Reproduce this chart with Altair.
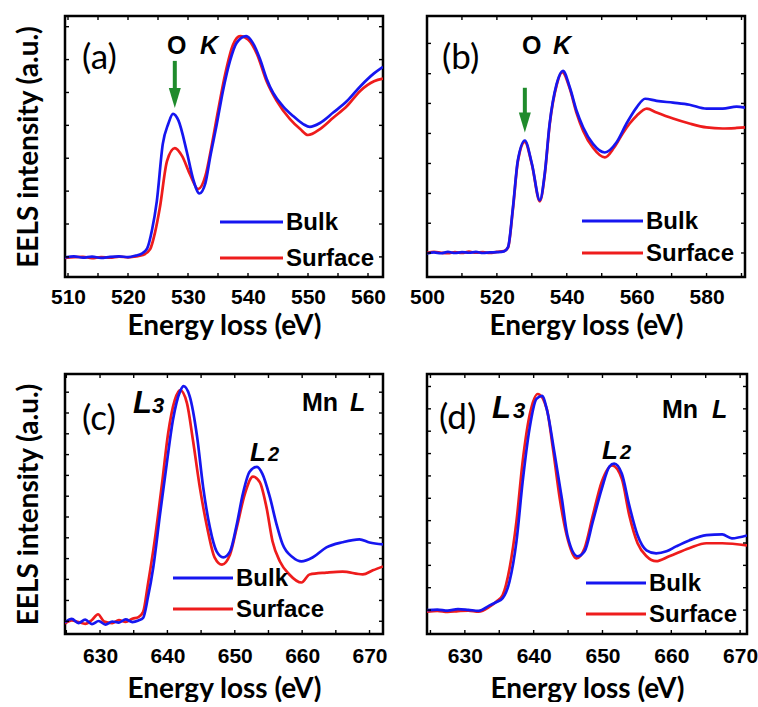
import altair as alt
import pandas as pd

BLUE = "#1616f0"
RED = "#ee1c1c"
GREEN = "#1f8b2c"

# ---------- (a) O K edge ----------
A_BULK_E = [509.5, 511, 512.5, 514, 515.5, 517, 518.5, 520, 521.3, 522.3, 523.2, 524, 524.8, 525.8,
            526.7, 527.5, 528.4, 529.8, 530.8, 531.9, 532.9, 533.7, 534.8, 535.8, 537, 538.1, 539.7,
            540.8, 542, 543.1, 544.2, 545.8, 547.5, 549.2, 550.3, 552, 554.2, 556.5, 558.7, 561, 562.5]
A_BULK_I = [7.5, 7.9, 7.4, 7.8, 7.3, 7.7, 7.9, 7.6, 8.2, 9.0, 11, 18, 29, 51,
            58.6, 62.5, 60, 48, 38, 32, 36, 46, 58.6, 71, 82.8, 89.7, 92.3,
            89.7, 83.5, 76, 70.5, 65.5, 61.7, 58.6, 57.5, 59, 63, 67.4, 73, 78, 80.5]
A_SURF_E = [509.5, 511, 512.5, 514, 515.5, 517, 518.5, 520, 521.3, 522.5, 523.7, 524.5, 525.3, 526.5,
            527.8, 529, 530.3, 531.7, 532.9, 534, 535, 536.2, 537.5, 538.7, 540, 541.5, 543.1, 544.8,
            547, 548.7, 550, 552, 554.2, 556.5, 558.7, 561, 562.5]
A_SURF_I = [7.3, 7.6, 7.7, 7.2, 7.6, 7.4, 7.8, 7.5, 7.9, 8.4, 10.7, 17, 26.4, 44.4,
            49.4, 46.4, 39.5, 33.7, 38.7, 51, 63.6, 77.8, 89, 92.3, 91, 85.4, 75, 67.4,
            60.5, 56.7, 54.4, 56.7, 61, 65.5, 71.3, 75, 76]

# ---------- (b) O K edge ----------
B_BULK_E = [500, 502, 504, 506, 508, 510, 512, 514, 516, 518, 520, 522, 523.2, 524.6, 526, 528, 530,
            532.3, 533.7, 535.1, 537.1, 538.9, 540.9, 542.8, 544.7, 547.5, 550.9, 554.2, 557.1, 560,
            562.4, 565.7, 570.4, 575.1, 580, 584.6, 588.6, 591]
B_BULK_I = [9.0, 9.4, 9.1, 9.6, 9.2, 9.5, 9.3, 9.6, 9.2, 9.4, 9.5, 9.8, 11.5, 26.7, 44.7, 52.3, 43.5,
            29.4, 39.7, 58.8, 74, 79, 72.5, 63.7, 57.3, 51, 47.7, 51.5, 58.8, 65,
            68.3, 67.5, 66.8, 66, 64.5, 64.5, 65.3, 64.9]
B_SURF_E = [500, 502, 504, 506, 508, 510, 512, 514, 516, 518, 520, 522, 523.2, 524.6, 526, 528, 530,
            532.3, 533.7, 535.1, 537.1, 538.7, 540.9, 542.8, 544.7, 547.5, 550.9, 553.5, 556, 558,
            560, 562.9, 565.7, 570.4, 575.1, 580, 584.6, 588.6, 591]
B_SURF_I = [9.2, 9.6, 9.3, 9.1, 9.5, 9.2, 9.7, 9.3, 9.5, 9.2, 9.6, 9.9, 11.3, 26.2, 44.2, 51.8, 43.2,
            29.0, 39.2, 58.3, 73.5, 78.5, 72.0, 62.8, 56.0, 49.5, 45.8, 49.5, 55, 58.8,
            61.8, 64.5, 63, 60.7, 58.8, 57.3, 56.9, 57.1, 57.3]

# ---------- (c) Mn L edge ----------
C_BULK_E = [624.8, 625.8, 626.8, 627.8, 628.8, 629.8, 630.8, 631.8, 632.8, 633.8, 634.8, 635.7, 636.4,
            637.1, 637.9, 638.9, 639.9, 640.8, 641.9, 642.4, 643.3, 644.4, 645.3, 646.3, 647.3, 648.3,
            649.3, 650.3, 651.2, 652.2, 653.3, 654.1, 655.2, 656.2, 657.1, 658.6, 659.9, 661.6, 663.6,
            666, 668.5, 670, 672]
C_BULK_I = [4.5, 5.8, 4.2, 5.5, 3.8, 5.0, 3.6, 4.8, 4.4, 5.6, 4.6, 5.2, 6.2,
            14, 25.6, 46, 65.5, 82, 93.4, 95.3, 91.5, 76, 56.6, 41, 31.8, 29.5,
            31.8, 42.2, 53.9, 62.4, 64.3, 61.6, 52.7, 42.2, 34.5, 29.5, 27.9, 29.5, 33.3,
            35.3, 36.4, 35.2, 34.5]
C_SURF_E = [624.8, 625.8, 626.8, 627.8, 628.8, 629.7, 630.6, 631.8, 632.8, 633.8, 634.8, 635.7, 636.4,
            637.1, 638.1, 639.2, 640.1, 641.1, 641.9, 642.9, 643.8, 644.8, 645.9, 647, 648.1, 649.3,
            650.3, 651.5, 652.7, 653.7, 654.7, 655.6, 656.7, 658.1, 659.9, 661.1, 663.6, 666, 669,
            670.5, 672]
C_SURF_I = [4.0, 5.2, 4.6, 3.9, 5.4, 7.6, 4.8, 4.2, 5.3, 4.7, 5.9, 6.5, 8.5,
            19, 35.7, 57.8, 77, 90, 93.8, 88.8, 74.4, 56.6, 41, 29.5, 26.7, 30.6,
            41, 53.9, 60.5, 58.5, 48.8, 35.7, 27.9, 22.9, 19.8, 22.9, 23.6, 24, 22.9,
            24.5, 26]

# ---------- (d) Mn L edge ----------
D_BULK_E = [624.5, 626, 627.5, 629, 630.5, 632, 633.6, 634.6, 635.5, 636.5, 637.5, 638.4, 639.4,
            640.4, 641.2, 642, 643, 644.1, 644.9, 646.4, 647.4, 648.6, 649.9, 651, 651.7, 652.8,
            653.9, 655.1, 656.4, 657.8, 659.3, 660.7, 662.6, 665.1, 667.4, 668.8, 671]
D_BULK_I = [9.2, 9.4, 9.0, 9.6, 9.3, 8.9, 11, 12.3, 13.8, 20.3, 35.6, 58.6, 79,
            90.4, 91.6, 85.4, 70, 52, 38, 29.9, 31.8, 43.3, 55.9, 64.4, 65.5, 61.7,
            49.4, 38, 32.2, 31, 31.8, 33.7, 36, 38, 38.3, 36.8, 37.9]
D_SURF_E = [624.5, 626, 627.5, 629, 630.5, 632, 633.6, 634.6, 635.5, 636.5, 637.5, 638.4, 639.4,
            640.6, 641.9, 642.8, 643.8, 644.8, 646.2, 647.4, 648.6, 649.9, 651.4, 652.8, 653.9,
            655.1, 656.4, 657.8, 659.7, 662.6, 665.1, 667.4, 671]
D_SURF_I = [8.6, 8.9, 8.5, 8.8, 9.0, 8.6, 10.5, 12.5, 15, 25.3, 43.3, 66.3, 84,
            92.3, 86.6, 71.3, 52, 38, 29.1, 33, 45.6, 58.6, 64.8, 59.8, 45.6,
            34.9, 29.9, 28, 29.9, 33, 34.9, 34.9, 34.1]

# axis tick labels and inner tick marks
A_XLABELS = [510, 520, 530, 540, 550, 560]
A_XTICKS = list(range(510, 561, 5))
A_YTICKS = [7.7, 20.3, 32.9, 45.5, 58.1, 70.7, 83.3, 95.9]
B_XLABELS = [500, 520, 540, 560, 580]
B_XTICKS = list(range(500, 591, 10))
B_YTICKS = [9.2, 20.6, 32.0, 43.5, 55.0, 66.5, 77.9, 89.5]
C_XLABELS = [630, 640, 650, 660, 670]
C_XTICKS = list(range(625, 671, 5))
C_YTICKS = [4.9, 12.9, 21, 29, 37, 45, 53, 61, 69, 77, 85, 93]
D_XLABELS = [630, 640, 650, 660, 670]
D_XTICKS = list(range(625, 671, 5))
D_YTICKS = [9.2, 17.8, 26.4, 35, 43.6, 52.2, 60.8, 69.4, 78, 86.6, 95.2]

SERIES = ["Bulk", "Surface"]

ARIAL = "Liberation Sans"
CALIBRI = "Lato"
ARROW_HEAD = "M -0.6 -1 L 0.6 -1 L 0 1 Z"


def text(t, x, y, size, font=ARIAL, weight="bold", style="normal", baseline="alphabetic"):
    return alt.Chart(pd.DataFrame({"t": [t]})).mark_text(
        align="left", baseline=baseline, font=font, fontSize=size,
        fontWeight=weight, fontStyle=style, color="black"
    ).encode(text="t:N", x=alt.value(x), y=alt.value(y))


def legend(x0, x1, y_bulk, y_surf):
    layers = []
    for name, color, y in [(SERIES[0], BLUE, y_bulk), (SERIES[1], RED, y_surf)]:
        layers.append(
            alt.Chart(pd.DataFrame({"t": [name]})).mark_rule(color=color, strokeWidth=3).encode(
                x=alt.value(x0), x2=alt.value(x1), y=alt.value(y))
        )
        layers.append(text(name, x1 + 3, y + 1, 24, baseline="middle"))
    return layers


class Panel:
    def __init__(self, xdom, xlabels, w, h, ytitle, label_pad=9, title_pad=5):
        self.w, self.h = w, h
        xs = alt.Scale(domain=xdom, nice=False, zero=False)
        ys = alt.Scale(domain=[0, 100], nice=False, zero=False)
        xaxis = alt.Axis(values=xlabels, ticks=False, domain=False, grid=False,
                         title="Energy loss (eV)", format="d", labelFlush=False,
                         labelPadding=label_pad, titlePadding=title_pad)
        if ytitle:
            yaxis = alt.Axis(labels=False, ticks=False, domain=False, grid=False,
                             title="EELS intensity (a.u.)")
        else:
            yaxis = None
        self.x = lambda f: alt.X(f, scale=xs, axis=xaxis)
        self.y = lambda f: alt.Y(f, scale=ys, axis=yaxis)

    def curves(self, bulk_e, bulk_i, surf_e, surf_i):
        out = []
        for e, i, c in [(surf_e, surf_i, RED), (bulk_e, bulk_i, BLUE)]:
            out.append(alt.Chart(pd.DataFrame({"E": e, "I": i})).mark_line(
                color=c, strokeWidth=2.7, interpolate="monotone", clip=True
            ).encode(x=self.x("E:Q"), y=self.y("I:Q")))
        return out

    def ticks(self, xticks, yticks):
        w, h = self.w, self.h
        xt = pd.DataFrame({"E": xticks})
        yt = pd.DataFrame({"I": yticks})
        st = dict(color="black", strokeWidth=1.4)
        return [
            alt.Chart(xt).mark_rule(**st).encode(x=self.x("E:Q"), y=alt.value(h), y2=alt.value(h - 4)),
            alt.Chart(xt).mark_rule(**st).encode(x=self.x("E:Q"), y=alt.value(0), y2=alt.value(4)),
            alt.Chart(yt).mark_rule(**st).encode(y=self.y("I:Q"), x=alt.value(0), x2=alt.value(4)),
            alt.Chart(yt).mark_rule(**st).encode(y=self.y("I:Q"), x=alt.value(w - 4), x2=alt.value(w)),
        ]

    def arrow(self, e, top, shaft_end, head):
        df = pd.DataFrame({"E": [e], "I": [top], "I2": [shaft_end], "H": [head]})
        shaft = alt.Chart(df).mark_rule(color=GREEN, strokeWidth=4).encode(
            x=self.x("E:Q"), y=self.y("I:Q"), y2="I2:Q")
        tip = alt.Chart(df).mark_point(shape=ARROW_HEAD, filled=True, size=400,
                                       color=GREEN, opacity=1).encode(
            x=self.x("E:Q"), y=self.y("H:Q"))
        return [shaft, tip]

    def build(self, layers):
        return alt.layer(*layers).properties(width=self.w, height=self.h)


P = Panel([509.5, 562.5], A_XLABELS, 318, 261, True)
pa = P.build(P.curves(A_BULK_E, A_BULK_I, A_SURF_E, A_SURF_I) + P.ticks(A_XTICKS, A_YTICKS)
             + P.arrow(527.8, 82.8, 71.5, 68.6)
             + [text("(a)", 17, 53, 35, font=CALIBRI, weight="normal"),
                text("O", 102, 38, 25), text("K", 135, 38, 25, style="italic")]
             + legend(155, 218, 206, 242))

P = Panel([500, 591], B_XLABELS, 318, 261, False)
pb = P.build(P.curves(B_BULK_E, B_BULK_I, B_SURF_E, B_SURF_I) + P.ticks(B_XTICKS, B_YTICKS)
             + P.arrow(528, 72.5, 62.5, 59.2)
             + [text("(b)", 15, 53, 35, font=CALIBRI, weight="normal"),
                text("O", 95, 38, 25), text("K", 126, 38, 25, style="italic")]
             + legend(155, 216, 205, 237))

P = Panel([624.8, 672], C_XLABELS, 318, 260, True, label_pad=11, title_pad=9)
pc = P.build(P.curves(C_BULK_E, C_BULK_I, C_SURF_E, C_SURF_I) + P.ticks(C_XTICKS, C_YTICKS)
             + [text("(c)", 17, 56, 35, font=CALIBRI, weight="normal"),
                text("L", 68, 39, 31, style="italic"), text("3", 87, 39, 22, style="italic"),
                text("Mn", 237, 37, 25), text("L", 285, 37, 25, style="italic"),
                text("L", 185, 87, 26, style="italic"), text("2", 203, 87, 20, style="italic")]
             + legend(108, 168, 204, 235))

P = Panel([624.5, 671], D_XLABELS, 320, 260, False, label_pad=11, title_pad=9)
pd_ = P.build(P.curves(D_BULK_E, D_BULK_I, D_SURF_E, D_SURF_I) + P.ticks(D_XTICKS, D_YTICKS)
              + [text("(d)", 12, 55, 35, font=CALIBRI, weight="normal"),
                 text("L", 65, 44, 31, style="italic"), text("3", 86, 44, 22, style="italic"),
                 text("Mn", 235, 44, 25), text("L", 285, 44, 25, style="italic"),
                 text("L", 175, 85, 26, style="italic"), text("2", 193, 85, 20, style="italic")]
              + legend(159, 219, 209, 240))

top_row = alt.hconcat(pa, pb, spacing=44, bounds="flush")
bottom_row = alt.hconcat(pc, pd_, spacing=44, bounds="flush")

chart = alt.vconcat(top_row, bottom_row, spacing=30).properties(
    padding={"left": 13, "top": 14, "right": -1, "bottom": -3}
).configure_view(
    stroke="black", strokeWidth=2.5
).configure_axis(
    labelFont=ARIAL, labelFontWeight="bold", labelFontSize=21, labelColor="black",
    titleFont=CALIBRI, titleFontWeight="bold", titleFontSize=28, titleColor="black",
).configure_axisY(
    titlePadding=22
)

chart.save("out.html", embed_options={"renderer": "svg", "actions": False})
